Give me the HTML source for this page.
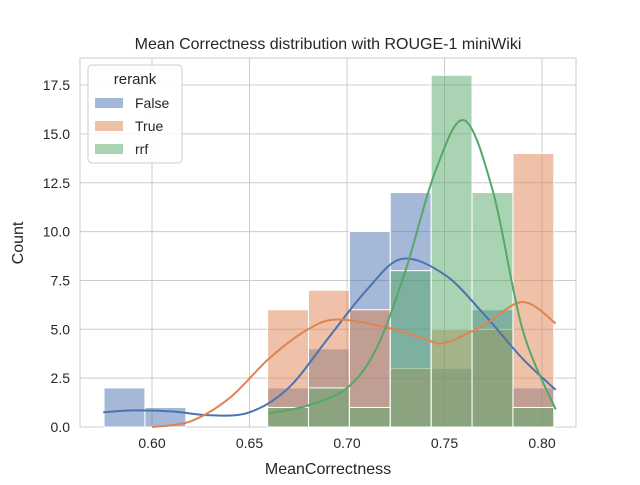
<!DOCTYPE html>
<html><head><meta charset="utf-8"><style>
body{margin:0;background:#fff;}
svg text{font-family:"Liberation Sans","DejaVu Sans",sans-serif;fill:#262626;}
</style></head><body>
<svg id="chart" width="640" height="480" viewBox="0 0 640 480" xmlns="http://www.w3.org/2000/svg">
<rect x="80" y="58" width="496" height="369" fill="#fff" stroke="#ccc"/>
<g id="grid"></g>
<g id="bars"></g>
<g id="kde"></g>
<g id="axes"></g>
<text x="328" y="49" font-size="16" text-anchor="middle">Mean Correctness distribution with ROUGE-1 miniWiki</text>
<text x="328" y="474" font-size="16" text-anchor="middle">MeanCorrectness</text>
<text x="23" y="243" font-size="16" text-anchor="middle" transform="rotate(-90 23 243)">Count</text>
<g>
<rect x="88" y="65" width="94" height="98" rx="4" fill="#fff" fill-opacity="0.85" stroke="#ccc"/>
<text x="135" y="84" font-size="15" text-anchor="middle">rerank</text>
<rect x="95" y="98" width="28" height="10" fill="#4c72b0" fill-opacity="0.5"/>
<text x="135" y="108" font-size="14">False</text>
<rect x="95" y="121" width="28" height="10" fill="#dd8452" fill-opacity="0.5"/>
<text x="135" y="131" font-size="14">True</text>
<rect x="95" y="144" width="28" height="10" fill="#55a868" fill-opacity="0.5"/>
<text x="135" y="154" font-size="14">rrf</text>
</g>
</svg>
<script>
const binStart = 0.5754;
const binWidth = 0.02097;
const countsFalse = [2,1,0,0,2,4,10,12,3,6,2];
const countsTrue  = [0,0,0,0,6,7,6,3,5,5,14];
const countsRrf   = [0,0,0,0,1,2,1,8,18,12,1];
const xTicks = [0.60,0.65,0.70,0.75,0.80];
const xTickLabels = ["0.60","0.65","0.70","0.75","0.80"];
const yTicks = [0,2.5,5,7.5,10,12.5,15,17.5];
const yTickLabels = ["0.0","2.5","5.0","7.5","10.0","12.5","15.0","17.5"];
const kdeFalseX = [0.575,0.59,0.61,0.63,0.65,0.67,0.69,0.71,0.728,0.75,0.77,0.79,0.807];
const kdeFalseY = [0.75,0.85,0.8,0.6,0.75,2,4.5,7,8.6,7.8,5.8,3.5,1.9];
const kdeTrueX = [0.60,0.62,0.64,0.66,0.68,0.695,0.72,0.74,0.75,0.77,0.79,0.807];
const kdeTrueY = [0,0.3,1.5,3.5,5,5.5,5.1,4.5,4.3,5.2,6.4,5.3];
const kdeRrfX = [0.66,0.68,0.70,0.715,0.73,0.745,0.76,0.775,0.79,0.807];
const kdeRrfY = [0.7,1.1,2,4,8,13,15.7,12,5,0.9];

const NS="http://www.w3.org/2000/svg";
const sx=v=>152+(v-0.60)*1950;
const sy=v=>427-v*19.54;
function mk(tag,parent,attrs){const e=document.createElementNS(NS,tag);for(const k in attrs)e.setAttribute(k,attrs[k]);document.getElementById(parent).appendChild(e);return e;}

xTicks.forEach((t,i)=>{
 const g=mk('line','grid',{x1:sx(t),x2:sx(t),y1:58,y2:427,stroke:'#ccc'});
 
 
 const l=mk('text','axes',{x:sx(t),y:448,'font-size':14,'text-anchor':'middle'});
 l.textContent=xTickLabels[i];
 
 
});
yTicks.forEach((t,i)=>{
 const g=mk('line','grid',{x1:80,x2:576,y1:sy(t),y2:sy(t),stroke:'#ccc'});
 
 
 const l=mk('text','axes',{x:70,y:sy(t)+5,'font-size':14,'text-anchor':'end'});
 l.textContent=yTickLabels[i];
 
 
});
function bars(counts,color,name){
 counts.forEach((c,i)=>{
  if(!c)return;
  const x0=sx(binStart+i*binWidth),x1=sx(binStart+(i+1)*binWidth);
  const r=mk('rect','bars',{x:x0,y:sy(c),width:x1-x0,height:sy(0)-sy(c),fill:color,'fill-opacity':0.5,stroke:'#fff','stroke-width':1});
  
  
 });
}
bars(countsFalse,'#4c72b0','false');
bars(countsTrue,'#dd8452','true');
bars(countsRrf,'#55a868','rrf');
function curve(xs,ys,color,name){
 const pts=xs.map((x,i)=>[sx(x),sy(ys[i])]);
 let d='M'+pts[0][0]+','+pts[0][1];
 for(let i=0;i<pts.length-1;i++){
  const p0=pts[Math.max(0,i-1)],p1=pts[i],p2=pts[i+1],p3=pts[Math.min(pts.length-1,i+2)];
  const c1=[p1[0]+(p2[0]-p0[0])/6,p1[1]+(p2[1]-p0[1])/6];
  const c2=[p2[0]-(p3[0]-p1[0])/6,p2[1]-(p3[1]-p1[1])/6];
  d+=` C${c1[0]},${c1[1]} ${c2[0]},${c2[1]} ${p2[0]},${p2[1]}`;
 }
 const p=mk('path','kde',{d:d,fill:'none',stroke:color,'stroke-width':2});
 
 
}
curve(kdeFalseX,kdeFalseY,'#4c72b0','false');
curve(kdeTrueX,kdeTrueY,'#dd8452','true');
curve(kdeRrfX,kdeRrfY,'#55a868','rrf');
</script>
</body></html>
